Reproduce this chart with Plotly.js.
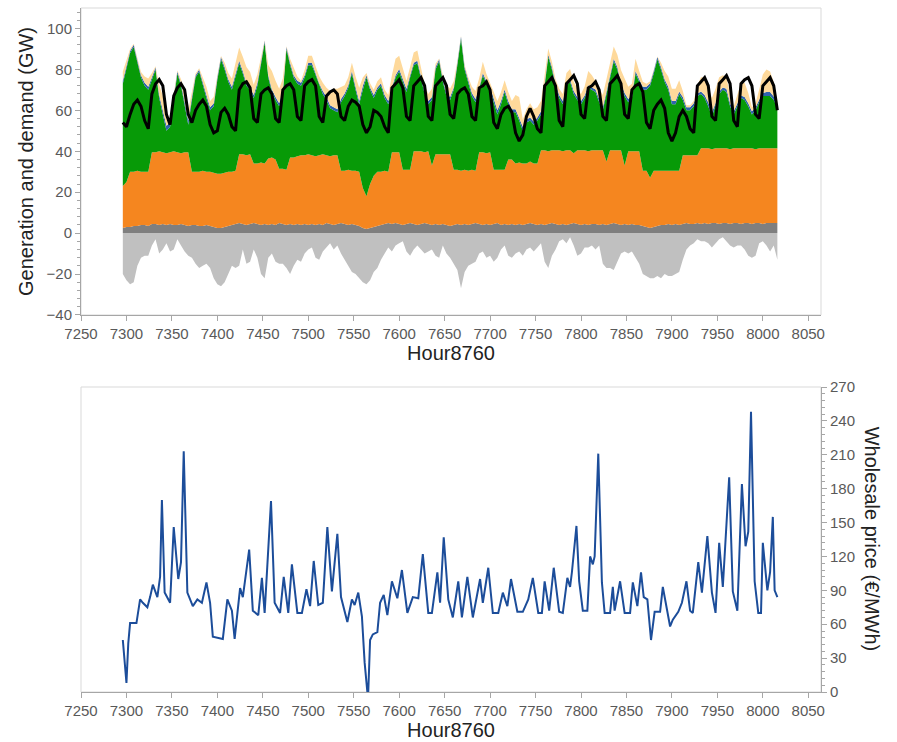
<!DOCTYPE html>
<html>
<head>
<meta charset="utf-8">
<script src="https://cdn.plot.ly/plotly-3.0.1.min.js"></script>
<style>html,body{margin:0;padding:0;background:#fff;}#chart{width:897px;height:742px;}</style>
</head>
<body>
<div id="chart"></div>
<script>
// ---- DATA (4-hour samples starting at hour 7296) ----
const startHour = 7296;
const stepHours = 4;

// Net exports (negative, GW)
const netExport = [
 -20,-23,-25,-24,-16,-12,-11,-11,-6,-3,
 -10,-8,-5,-9,-8,-3,-6,-9,-11,-12,
 -15,-17,-16,-15,-17,-22,-25,-26,-24,-20,
 -16,-17,-16,-8,-15,-14,-8,-12,-20,-22,
 -12,-10,-14,-15,-15,-17,-20,-16,-13,-14,
 -10,-8,-7,-12,-13,-9,-7,-5,-8,-6,
 -10,-13,-16,-19,-20,-22,-24,-25,-23,-19,
 -17,-13,-10,-7,-9,-6,-5,-4,-9,-11,
 -8,-6,-8,-10,-9,-8,-11,-12,-6,-10,
 -12,-15,-18,-27,-19,-16,-15,-14,-10,-9,
 -12,-11,-14,-12,-8,-6,-11,-12,-10,-9,
 -11,-8,-7,-9,-7,-5,-14,-17,-11,-8,
 -4,-3,-5,-2,-6,-11,-10,-7,-7,-6,
 -8,-6,-15,-17,-17,-18,-14,-10,-9,-10,
 -9,-12,-15,-20,-21,-22,-22,-21,-22,-20,
 -21,-21,-20,-19,-13,-8,-6,-5,-3,-4,
 -4,-5,-7,-5,-3,-2,-4,-6,-7,-6,
 -6,-8,-11,-12,-11,-5,-4,-6,-9,-6,
 -13
];

// Dark grey base layer (GW, top of layer)
const baseTop = [
 2.5,3,3,3.5,3.5,4,4,3.5,4.5,4.5,
 4,4.5,4,4.5,4,4,4.5,4,3.5,4,
 4,3.5,3.5,4,3.5,3,2.5,2.5,3,3.5,
 4,4.5,5,4.5,4,4.5,5,4.5,4,4.5,
 4,4.5,4,5,4.5,4,4.5,4,4.5,4,
 4.5,4,4.5,4,4.5,4,5,4.5,4,4.5,
 5,4.5,4,4.5,4,3.5,2.5,2,2.5,3,
 3.5,4,4.5,5,4.5,5,4.5,4,4.5,5,
 4.5,4,4.5,5,4.5,4,4.5,4,4.5,4,
 3.5,4,4.5,4,4.5,4,4.5,5,4.5,4,
 4.5,4,4.5,5,4,4.5,4,4.5,4,4.5,
 4,4.5,5,4.5,4,4.5,4,4.5,5,4.5,
 4,4.5,4,4.5,5,4.5,4,4.5,4,4.5,
 4.5,4,4.5,4,4.5,5,4.5,4,4.5,4,
 4.5,4,4,3.5,3,2.5,3,3.5,4,4,
 4.5,4,4.5,4,4.5,5,4.5,4.5,5,4.5,
 5,4.5,5,5,4.5,5,5,4.5,5,5,
 4.5,5,5,4.5,5,5,4.5,5,5,5,
 5
];

// Orange layer (cumulative top, GW)
const orangeTop = [
 23,25,30,30,30.5,30,30,30,39.5,39.5,
 40,39.5,39,39.5,40,39.5,39,39.5,39.5,30,
 30,30,30.5,30,30,29.5,29,29,29.5,30,
 30,30.5,38.5,38.5,38,38.5,34,34,34.5,34,
 36.5,37,36,31.5,31.5,31,37,37,37.5,38,
 38,38.5,38,37.5,38,38.5,38,37.5,38,38,
 30.5,30.5,31,30.5,30.5,30,22,18,24,28,
 30,30,30.5,30,39.5,39.5,39.5,31,31,31,
 40,40,40,39.5,40,33,38.5,38.5,38.5,38.5,
 38.5,31,31,30.5,31,30.5,31,30.5,39.5,39.5,
 39,39.5,31,31,31,31,36,36,34,34.5,
 34,34,35,34,34,40.5,40.5,40,40.5,40.5,
 40.5,40,40.5,40.5,39,40.5,40.5,40.5,40,40.5,
 40.5,40.5,40.5,35,40.5,40.5,40.5,40.5,33,40,
 40,40,40,30.5,30.5,27,30.5,30.5,30.5,30.5,
 30.5,30.5,30.5,30.5,38,38,38,38,38,41.5,
 41.5,41.5,41,41.5,41.5,41.5,41.5,41,41.5,41.5,
 41.5,41.5,41.5,41.5,41,41.5,41.5,41.5,41.5,41.5,
 41.5
];

// Green layer (cumulative top, GW)
const greenTop = [
 73,80,88,91,83,76,72,70,75,80,
 66,58,50,52,66,78,72,63,53,65,
 76,79,72,66,60,62,75,85,80,74,
 70,76,83,78,72,70,66,72,82,93,
 76,69,65,62,68,90,82,76,73,72,
 76,82,82,77,72,68,65,61,60,59,
 64,67,71,78,70,63,70,76,70,66,
 70,72,66,63,70,76,79,74,69,76,
 82,83,75,68,63,65,80,84,74,67,
 65,70,82,95,80,73,67,64,70,77,
 73,70,64,58,63,69,63,59,59,55,
 50,54,55,53,55,58,72,86,80,72,
 66,63,72,74,68,65,63,66,71,70,
 69,64,60,68,76,84,80,72,67,64,
 66,78,74,70,70,72,78,85,80,74,
 70,63,63,68,65,60,60,62,67,68,
 66,62,57,62,68,70,69,62,58,62,
 66,65,62,58,60,64,67,67,67,65,
 61
];

// Blue layer (thickness, GW)
const blueLayer = [
 1.5,1.2,1,1,1.2,1.2,1.5,1.5,1.2,1,
 1.5,2,2.5,2,1.2,1,1.2,1.5,2,1.5,
 1,1,1.2,1.5,1.5,1.5,1.2,1,1.2,1.2,
 1.5,1.5,1.2,1.2,1.2,1.2,1.5,1.5,1.2,1,
 1.2,1.2,1.5,1.5,1.5,1,1.2,1.2,1.5,1.5,
 1.2,1.2,1.2,1.2,1.2,1.5,1.5,1.5,1.5,1.5,
 1.5,1.2,1.2,1.2,1.5,1.5,2,1.2,1.2,1.5,
 1.2,1.2,1.5,1.5,1.2,1.2,1.2,1.2,1.5,1.2,
 1.2,1.2,1.2,1.5,1.5,1.5,1.2,1,1.2,1.5,
 1.5,1.2,1.2,1,1.2,1.2,1.5,1.5,1.2,1.2,
 1.2,1.5,1.5,2,1.5,1.2,1.5,1.5,1.5,1.5,
 2,1.5,1.5,1.5,1.5,1.5,1.2,1.2,1.2,1.2,
 1.5,1.5,1.2,1.2,1.5,1.5,1.5,1.2,1.2,1.2,
 1.2,1.5,1.5,1.2,1.2,1.2,1.2,1.2,1.5,1.5,
 1.5,1.2,1.2,1.5,1.5,1.2,1.2,1,1.2,1.2,
 1.5,1.5,1.5,1.2,1.5,1.5,1.5,1.5,1.2,1.2,
 1.5,1.8,2,1.5,1.2,1.2,1.5,1.5,1.5,1.2,
 1.2,1.5,1.5,1.5,1.5,1.2,1.5,2,2,1.8,
 1.5
];

// Light orange top layer (thickness, GW)
const peachLayer = [
 4.5,3,1,0.5,1,1.5,3,4,2,0.5,
 5,7,3,2,1,0.5,2,5,5,3,
 1,0.5,3,4,3,3,1,0.5,2,3,
 4,5,6.5,7,8,7.5,5,4,2,0.3,
 5,9,8,7,6,0.3,2,4,2,1,
 2.5,3.5,3.5,3.3,3.5,4,4.5,7,9,10,
 6,4,4,4,5,6.5,4,1,2,2.5,
 3,3,2.5,3,6,8,6.5,5,4,4,
 5,5,4,3,3.5,4,1.5,0.3,2,4,
 4,3,1,0.3,1,2,3,4,4.5,5.5,
 3.5,2,3,4.5,4.5,4.5,4.5,4,7,10,
 3.5,5,7,6,5,5,4,3,2.5,2,
 3,3.5,5,5,4.5,4,3.5,4.5,7,6,
 4,5,6,6,6,6,6,6.5,7,6,
 5.5,6,4,2.5,1.5,1,0.5,0.3,2,4,
 5,6,6,5.5,3,1,1,1,4,7,
 8.5,8,7,7,7,6,5.5,4,2.5,4,
 6,7,5,2,2,5,9,11,10,7,
 2
];

// Demand (GW), one row per day: 0h,4h,8h,12h,16h,20h
const demand = [
 54,52,58,63,65,62,
 55,51,68,73,75,72,
 58,53,67,71,73,70,
 58,54,60,63,65,62,
 53,49,50,59,61,58,
 52,50,70,73,74,71,
 56,54,68,70,71,68,
 56,54,70,72,73,70,
 57,55,72,74,75,72,
 57,54,67,69,70,68,
 57,55,62,65,64,62,
 53,49,52,60,59,57,
 52,49,71,73,75,71,
 57,55,72,74,76,72,
 57,55,72,74,76,72,
 58,56,68,70,71,68,
 57,55,71,72,74,70,
 54,51,58,61,62,59,
 49,45,48,57,61,57,
 51,49,72,74,76,72,
 55,52,73,75,77,73,
 58,56,71,72,74,70,
 57,55,73,75,77,73,
 58,56,70,72,73,69,
 54,51,60,63,65,61,
 49,45,49,57,60,57,
 51,49,72,74,76,72,
 57,55,73,75,77,73,
 55,52,73,75,76,72,
 58,56,72,74,76,72,
 60
];

// Wholesale price (EUR/MWh), irregular breakpoints
const priceHours = [
 7296,7300,7302,7304,7311,7315,7318,7323,7326,7329,7334,7337,7339,7342,7348,7352,7357,7360,7363,7367,
 7373,7378,7383,7388,7392,7395,7406,7411,7416,7419,7425,7428,7435,7439,7445,7449,7452,7459,7463,7469,
 7473,7478,7482,7488,7493,7498,7502,7506,7511,7516,7521,7526,7532,7536,7543,7548,7551,7555,7559,7562,
 7565,7566,7568,7571,7576,7579,7583,7587,7592,7598,7603,7609,7615,7621,7626,7632,7636,7642,7645,7649,
 7654,7659,7665,7669,7675,7681,7689,7692,7698,7703,7709,7714,7719,7723,7730,7736,7742,7747,7753,7757,
 7760,7765,7770,7776,7780,7785,7788,7790,7795,7798,7802,7807,7810,7813,7815,7819,7823,7826,7832,7835,
 7837,7843,7848,7854,7857,7862,7866,7869,7873,7877,7881,7887,7890,7895,7898,7901,7907,7911,7916,7920,
 7923,7929,7933,7939,7944,7948,7952,7956,7963,7967,7972,7977,7981,7984,7987,7991,7995,7998,8000,8005,
 8008,8011,8013,8016
];
const price = [
 46,8,43,61,61,82,79,75,84,95,84,102,170,88,79,146,100,115,213,88,
 76,82,79,97,79,49,47,82,72,47,92,84,126,72,68,101,70,169,79,70,
 102,70,113,70,70,91,76,116,77,79,146,89,140,84,62,82,77,88,67,26,
 0,0,46,51,53,79,86,68,98,83,108,70,84,83,122,70,70,106,79,137,
 82,66,98,66,102,66,100,79,110,70,70,88,76,100,71,71,82,101,70,70,
 98,72,110,71,70,101,93,106,147,98,72,72,120,113,120,211,97,70,70,93,
 72,98,70,70,97,76,106,84,82,46,71,71,93,72,58,64,71,79,98,72,
 70,115,88,138,88,70,132,93,190,89,72,184,129,142,248,98,70,70,132,90,
 106,155,90,84
];

// ---- BUILD ----
const hours = demand.map((_, i) => startHour + i * stepHours);
const blueTop = greenTop.map((g, i) => g + blueLayer[i]);
const peachTop = blueTop.map((b, i) => b + peachLayer[i]);

function area(y, color, fill) {
  return {x: hours, y: y, type: 'scatter', mode: 'lines', fill: fill,
          fillcolor: color, line: {width: 0, color: color}, xaxis: 'x', yaxis: 'y', hoverinfo: 'skip'};
}

const traces = [
  area(netExport, '#c0c0c0', 'tozeroy'),
  area(baseTop, '#7f7f7f', 'tozeroy'),
  area(orangeTop, '#f5861f', 'tonexty'),
  area(greenTop, '#079a07', 'tonexty'),
  area(blueTop, '#2f63ad', 'tonexty'),
  area(peachTop, '#fed99b', 'tonexty'),
  {x: hours, y: demand, type: 'scatter', mode: 'lines', line: {color: '#000000', width: 3},
   xaxis: 'x', yaxis: 'y'},
  {x: priceHours, y: price, type: 'scatter', mode: 'lines', line: {color: '#1c4d9a', width: 2},
   xaxis: 'x2', yaxis: 'y2'}
];

const axisGray = '#a6a6a6';
const tickFont = {family: 'Liberation Sans, Arial, sans-serif', size: 15, color: '#595959'};
const titleFont = {family: 'Liberation Sans, Arial, sans-serif', size: 20, color: '#222222'};

function xAxis(anchor) {
  return {anchor: anchor, domain: [0, 1], range: [7250, 8064], tick0: 7250, dtick: 50,
    ticks: 'outside', ticklen: 5, tickcolor: axisGray, showline: true, linecolor: axisGray,
    showgrid: false, zeroline: false, tickfont: tickFont,
    title: {text: 'Hour8760', font: titleFont, standoff: 4}};
}

const layout = {
  width: 897, height: 742,
  margin: {l: 81, r: 76, t: 8, b: 50},
  paper_bgcolor: '#ffffff', plot_bgcolor: '#ffffff',
  showlegend: false,
  font: {family: 'Liberation Sans, Arial, sans-serif'},
  xaxis: xAxis('y'),
  yaxis: {domain: [0.5512, 1], range: [-40, 110], tick0: -40, dtick: 20,
    ticks: 'outside', ticklen: 5, tickcolor: axisGray, showline: true, linecolor: axisGray,
    minor: {ticks: 'outside', dtick: 4, ticklen: 3, tickcolor: axisGray},
    showgrid: false, zeroline: false, tickfont: tickFont,
    title: {text: 'Generation and demand (GW)', font: titleFont, standoff: 7}},
  xaxis2: xAxis('y2'),
  yaxis2: {domain: [0, 0.4459], range: [0, 270], tick0: 0, dtick: 30, side: 'right', anchor: 'x2',
    ticks: 'outside', ticklen: 5, tickcolor: axisGray, showline: true, linecolor: axisGray,
    minor: {ticks: 'outside', dtick: 6, ticklen: 3, tickcolor: axisGray},
    showgrid: false, zeroline: false, tickfont: tickFont},
  shapes: [
    {type: 'rect', xref: 'x domain', yref: 'y domain', x0: 0, x1: 1, y0: 0, y1: 1,
     line: {color: '#d9d9d9', width: 1}, layer: 'below'},
    {type: 'rect', xref: 'x2 domain', yref: 'y2 domain', x0: 0, x1: 1, y0: 0, y1: 1,
     line: {color: '#d9d9d9', width: 1}, layer: 'below'}
  ],
  annotations: [
    {text: 'Wholesale price (€/MWh)', xref: 'paper', yref: 'y2 domain', x: 1.07, y: 0.5,
     xanchor: 'center', yanchor: 'middle', textangle: 90, showarrow: false, font: titleFont}
  ]
};

Plotly.newPlot('chart', traces, layout, {staticPlot: true, displayModeBar: false});
</script>
</body>
</html>
